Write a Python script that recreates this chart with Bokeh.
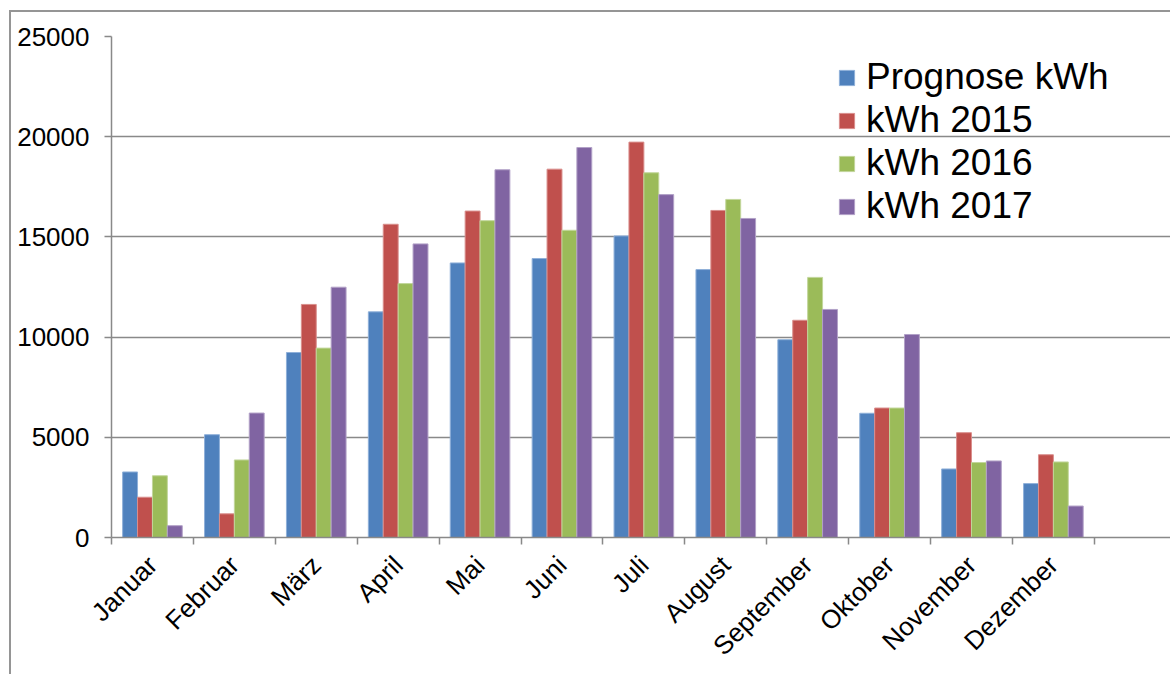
import math
from bokeh.plotting import figure
from bokeh.models import FixedTicker, Legend, LegendItem, ColumnDataSource
from bokeh.embed import file_html
from bokeh.resources import INLINE

months = ["Januar", "Februar", "März", "April", "Mai", "Juni", "Juli",
          "August", "September", "Oktober", "November", "Dezember"]
series_names = ["Prognose kWh", "kWh 2015", "kWh 2016", "kWh 2017"]
prognose = [3270, 5130, 9230, 11260, 13700, 13920, 15050, 13370, 9870, 6200, 3420, 2690]
kwh2015 = [2010, 1180, 11630, 15630, 16290, 18380, 19730, 16320, 10840, 6460, 5230, 4130]
kwh2016 = [3080, 3870, 9450, 12670, 15810, 15330, 18200, 16870, 12980, 6460, 3740, 3770]
kwh2017 = [590, 6210, 12490, 14650, 18350, 19460, 17110, 15920, 11380, 10130, 3820, 1570]
colors = ["#4F81BD", "#C0504D", "#9BBB59", "#8064A2"]
edge_colors = ["#8FB0D9", "#D98E8C", "#C2D69B", "#B2A1C7"]
y_ticks = [0, 5000, 10000, 15000, 20000, 25000]

FONT = "Liberation Sans"
GRID = "#898989"

p = figure(width=1170, height=674, output_backend="svg", toolbar_location=None,
           x_range=(0, 12.93), y_range=(0, 25000),
           min_border_left=111, min_border_top=36, min_border_bottom=136, min_border_right=0)
p.outline_line_color = None
p.background_fill_color = None
p.border_fill_color = None
# outer chart-area border (left and top edges visible in the window)
p.styles = {
    "background-color": "white",
    "background-image": "linear-gradient(#959595, #959595), linear-gradient(#959595, #959595)",
    "background-size": "2px 700px, 1200px 2px",
    "background-position": "9px 10px, 9px 10px",
    "background-repeat": "no-repeat",
}

centers = [i + 0.5 for i in range(len(months))]
bar_w = 0.182
offsets = [-1.5 * bar_w, -0.5 * bar_w, 0.5 * bar_w, 1.5 * bar_w]
all_series = [prognose, kwh2015, kwh2016, kwh2017]
renderers = []
for vals, off, col, ecol in zip(all_series, offsets, colors, edge_colors):
    src = ColumnDataSource(dict(x=[c + off for c in centers], top=vals))
    r = p.vbar(x="x", top="top", width=bar_w, source=src, fill_color=col,
               line_color=ecol, line_width=1)
    renderers.append(r)

# x axis
xt = FixedTicker(ticks=centers, minor_ticks=list(range(0, 13)))
p.xaxis.ticker = xt
p.xaxis.major_label_overrides = {c: m for c, m in zip(centers, months)}
p.xaxis.major_label_orientation = math.pi / 4
p.xaxis.major_tick_line_color = None
p.xaxis.major_tick_out = 0
p.xaxis.major_tick_in = 0
p.xaxis.minor_tick_line_color = GRID
p.xaxis.minor_tick_line_width = 1.5
p.xaxis.minor_tick_out = 7
p.xaxis.minor_tick_in = 0
p.xaxis.axis_line_color = GRID
p.xaxis.axis_line_width = 1.5
p.xaxis.major_label_text_font = FONT
p.xaxis.major_label_text_font_size = "26px"
p.xaxis.major_label_text_color = "black"
p.xaxis.major_label_standoff = 16

# y axis
p.yaxis.ticker = FixedTicker(ticks=y_ticks)
p.yaxis.minor_tick_line_color = None
p.yaxis.major_tick_line_color = GRID
p.yaxis.major_tick_line_width = 1.5
p.yaxis.major_tick_out = 7
p.yaxis.major_tick_in = 0
p.yaxis.axis_line_color = GRID
p.yaxis.axis_line_width = 1.5
p.yaxis.major_label_text_font = FONT
p.yaxis.major_label_text_font_size = "26px"
p.yaxis.major_label_text_color = "black"
p.yaxis.major_label_standoff = 15
p.yaxis.formatter.use_scientific = False

p.xgrid.grid_line_color = None
p.ygrid.grid_line_color = GRID
p.ygrid.grid_line_width = 1.5
p.ygrid.ticker = FixedTicker(ticks=y_ticks)

legend = Legend(items=[LegendItem(label=n, renderers=[r]) for n, r in zip(series_names, renderers)],
                location=(726, 310), orientation="vertical",
                glyph_width=19, glyph_height=19, label_standoff=10,
                label_text_font=FONT, label_text_font_size="37px",
                label_text_color="black", spacing=1, padding=0, margin=0,
                border_line_color=None, background_fill_alpha=0)
p.add_layout(legend)

open("out.html", "w").write(file_html(p, INLINE))
